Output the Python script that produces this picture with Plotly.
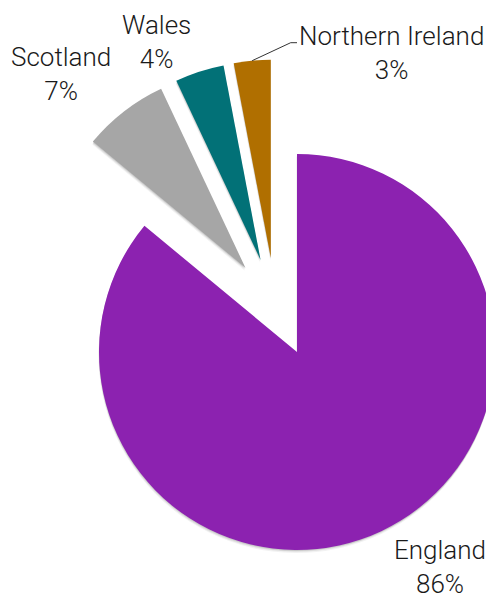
import math
import plotly.graph_objects as go

# UK population share by nation
regions = ["England", "Scotland", "Wales", "Northern Ireland"]
shares = [86, 7, 4, 3]

colors = ["#8C22B0", "#A6A6A6", "#027177", "#B06F00"]

# canvas and geometry (pixels)
W, H = 500, 603
R = 198
# each nation is drawn as its own pie so the small wedges can be exploded freely
centres = [(297.0, 352.0), (245.4, 267.8), (260.6, 260.0), (270.8, 257.8)]
label_centres = [(440, 567), (61, 74), (156.5, 42), (391, 53)]
leader_elbow = (290.7, 42.7)
leader_end = (297.0, 42.7)
# soft drop shadow: (dx, dy, alpha) layers
shadow_layers = [(-0.5, 3.0, 0.05), (-0.3, 1.8, 0.08), (0.0, 0.9, 0.10)]

FONT = dict(family="Roboto, 'Helvetica Neue', Arial, sans-serif", size=26,
            color="#1a1a1a", weight=300)


def px_x(x):
    return x / W


def px_y(y):
    return 1 - y / H


def wedge(i, cx, cy, color):
    slice_colors = [color if j == i else "rgba(0,0,0,0)" for j in range(len(shares))]
    return go.Pie(
        labels=regions,
        values=shares,
        sort=False,
        direction="clockwise",
        rotation=0,
        marker=dict(colors=slice_colors, line=dict(width=0)),
        textinfo="none",
        hoverinfo="skip",
        showlegend=False,
        domain=dict(x=[px_x(cx - R), px_x(cx + R)],
                    y=[px_y(cy + R), px_y(cy - R)]),
    )


fig = go.Figure()
# shadows first, underneath the wedges
for dx, dy, a in shadow_layers:
    for i, (cx, cy) in enumerate(centres):
        fig.add_trace(wedge(i, cx + dx, cy + dy, f"rgba(0,0,0,{a})"))
for i, (cx, cy) in enumerate(centres):
    fig.add_trace(wedge(i, cx, cy, colors[i]))

# labels
for i, (lx, ly) in enumerate(label_centres):
    fig.add_annotation(
        x=px_x(lx), y=px_y(ly), xref="paper", yref="paper",
        xanchor="center", yanchor="middle",
        text=f"{regions[i]}<br>{shares[i]}%",
        showarrow=False, font=FONT, align="center",
    )

# leader line from the middle of the Northern Ireland wedge's rim to its label
total = sum(shares)
ni = regions.index("Northern Ireland")
mid_angle = math.radians((sum(shares[:ni]) + shares[ni] / 2) / total * 360)
cx, cy = centres[ni]
sx = cx + R * math.sin(mid_angle)
sy = cy - R * math.cos(mid_angle)
path = (f"M {px_x(sx)},{px_y(sy)} "
        f"L {px_x(leader_elbow[0])},{px_y(leader_elbow[1])} "
        f"L {px_x(leader_end[0])},{px_y(leader_end[1])}")
fig.add_shape(type="path", path=path, xref="paper", yref="paper",
              line=dict(color="#333333", width=1))

fig.update_layout(
    width=W, height=H,
    margin=dict(l=0, r=0, t=0, b=0),
    paper_bgcolor="white",
    plot_bgcolor="white",
)

fig.write_html(
    "out.html",
    config={"displayModeBar": False},
    post_script="document.documentElement.style.overflow='hidden';"
                "document.body.style.overflow='hidden';",
)
